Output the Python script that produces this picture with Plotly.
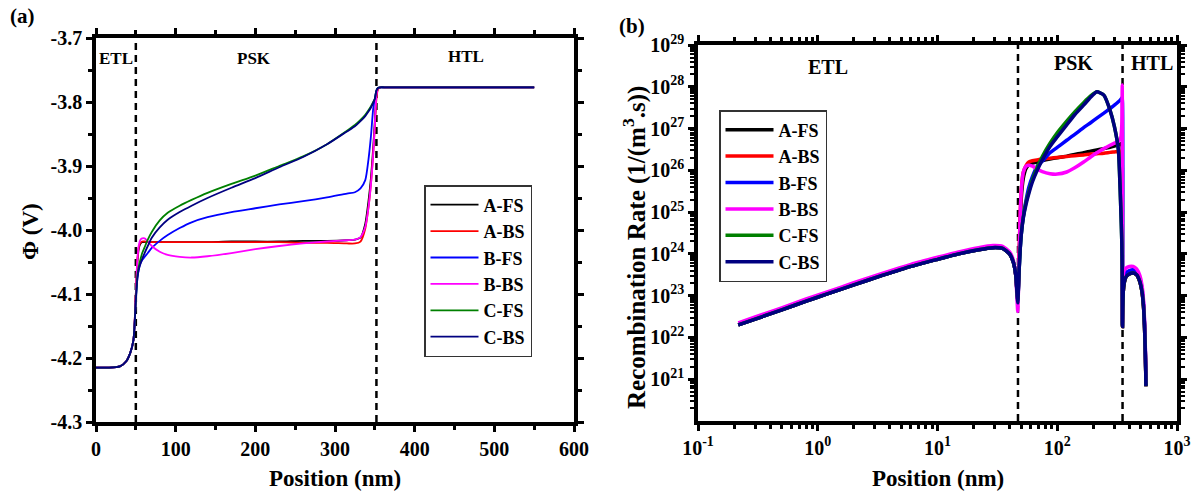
import plotly.graph_objects as go

W, H = 1203, 493
FONT = "Liberation Serif"

# ---------------- Panel (a): electrostatic potential ----------------
xa = [0, 15, 30, 38, 43, 47, 50, 52, 54, 56, 58, 61, 65, 70, 80, 90, 105, 120, 140, 170,
      200, 230, 260, 290, 315, 325, 332, 338, 342, 345, 348, 350, 352, 354, 357, 362,
      400, 450, 500, 550]

phi_A_FS = [-4.215, -4.215, -4.213, -4.205, -4.192, -4.172, -4.10, -4.05, -4.027, -4.021, -4.019, -4.019,
            -4.019, -4.019, -4.019, -4.019, -4.019, -4.019, -4.019, -4.018, -4.018, -4.018, -4.017,
            -4.017, -4.016, -4.015, -4.012, -3.99, -3.955, -3.92, -3.87, -3.83, -3.79, -3.779,
            -3.777, -3.777, -3.777, -3.777, -3.777, -3.777]
phi_A_BS = [-4.215, -4.215, -4.213, -4.205, -4.192, -4.172, -4.10, -4.045, -4.025, -4.020, -4.018, -4.018,
            -4.019, -4.019, -4.019, -4.019, -4.019, -4.019, -4.019, -4.019, -4.019, -4.019, -4.020,
            -4.020, -4.021, -4.021, -4.018, -3.998, -3.965, -3.93, -3.88, -3.84, -3.795, -3.780,
            -3.777, -3.777, -3.777, -3.777, -3.777, -3.777]
phi_B_FS = [-4.215, -4.215, -4.213, -4.205, -4.192, -4.172, -4.11, -4.075, -4.06, -4.052, -4.047, -4.042,
            -4.036, -4.028, -4.017, -4.008, -3.997, -3.988, -3.980, -3.972, -3.966, -3.960, -3.955,
            -3.949, -3.943, -3.941, -3.935, -3.922, -3.89, -3.855, -3.81, -3.795, -3.782, -3.778,
            -3.777, -3.777, -3.777, -3.777, -3.777, -3.777]
phi_B_BS = [-4.215, -4.215, -4.213, -4.205, -4.192, -4.172, -4.10, -4.045, -4.022, -4.015, -4.013, -4.013,
            -4.018, -4.025, -4.034, -4.039, -4.042, -4.043, -4.041, -4.036, -4.030, -4.025, -4.021,
            -4.018, -4.016, -4.015, -4.011, -3.995, -3.965, -3.93, -3.88, -3.835, -3.79, -3.779,
            -3.777, -3.777, -3.777, -3.777, -3.777, -3.777]
phi_C_FS = [-4.215, -4.215, -4.213, -4.205, -4.192, -4.172, -4.11, -4.07, -4.055, -4.045, -4.036, -4.027,
            -4.015, -4.003, -3.985, -3.973, -3.962, -3.953, -3.942, -3.928, -3.915, -3.900, -3.885,
            -3.866, -3.845, -3.836, -3.828, -3.820, -3.813, -3.807, -3.800, -3.795, -3.782, -3.778,
            -3.777, -3.777, -3.777, -3.777, -3.777, -3.777]
phi_C_BS = [-4.215, -4.215, -4.213, -4.205, -4.192, -4.172, -4.11, -4.075, -4.06, -4.052, -4.045, -4.036,
            -4.025, -4.012, -3.996, -3.984, -3.972, -3.962, -3.950, -3.934, -3.919, -3.902, -3.886,
            -3.866, -3.846, -3.838, -3.830, -3.822, -3.815, -3.809, -3.801, -3.795, -3.782, -3.778,
            -3.777, -3.777, -3.777, -3.777, -3.777, -3.777]

bounds_a = [50, 352]

# ---------------- Panel (b): recombination rate ----------------
xb_etl = [0.217, 0.3, 0.5, 0.8, 1.2, 2, 3.5, 6, 10, 15, 22, 29, 35, 40, 43, 45]
rr_etl = [2.0e22, 2.75e22, 4.57e22, 7.41e22, 1.10e23, 1.82e23, 3.09e23, 5.01e23, 7.41e23, 1.0e24,
          1.26e24, 1.41e24, 1.35e24, 1.0e24, 6.31e23, 3.16e23]
rr_etl_BBS = [2.24e22, 3.09e22, 5.13e22, 8.32e22, 1.23e23, 2.04e23, 3.47e23, 5.62e23, 8.32e23, 1.12e24,
              1.41e24, 1.58e24, 1.51e24, 1.12e24, 7.08e23, 3.16e23]

xb_psk = [46.8, 48, 49, 50, 52, 55, 58, 62, 68, 75, 87, 100, 120, 140, 166, 190, 214, 245, 276, 300,
          324, 339, 346, 349]
rr_psk_A_FS = [7.94e22, 6.31e23, 3.98e24, 2.0e25, 6.31e25, 1.12e26, 1.35e26, 1.48e26, 1.58e26, 1.70e26,
               1.86e26, 2.0e26, 2.19e26, 2.40e26, 2.63e26, 2.88e26, 3.09e26, 3.31e26, 3.55e26, 3.80e26,
               4.07e26, 4.27e26, 4.47e26, 2.0e26]
rr_psk_A_BS = [7.94e22, 1.0e24, 7.94e24, 3.16e25, 8.91e25, 1.32e26, 1.58e26, 1.70e26, 1.78e26, 1.86e26,
               1.95e26, 2.04e26, 2.14e26, 2.24e26, 2.34e26, 2.45e26, 2.51e26, 2.57e26, 2.69e26, 2.75e26,
               2.82e26, 2.82e26, 2.82e26, 1.0e26]
rr_psk_B_FS = [7.94e22, 3.98e23, 1.26e24, 2.82e24, 7.94e24, 2.0e25, 3.98e25, 7.08e25, 1.26e26, 1.66e26,
               2.63e26, 3.55e26, 5.25e26, 7.24e26, 1.05e27, 1.38e27, 1.78e27, 2.34e27, 3.02e27, 3.63e27,
               4.37e27, 5.01e27, 5.37e27, 5.62e27]
rr_psk_B_BS = [4.17e22, 7.94e23, 7.94e24, 3.16e25, 8.91e25, 1.26e26, 1.32e26, 1.26e26, 1.07e26, 9.33e25,
               8.32e25, 8.13e25, 9.12e25, 1.15e26, 1.58e26, 2.09e26, 2.63e26, 3.31e26, 3.98e26, 4.47e26,
               5.01e26, 6.03e26, 1.26e27, 1.10e28]
rr_psk_C_FS = [7.94e22, 3.98e23, 1.26e24, 2.82e24, 7.41e24, 1.78e25, 3.16e25, 6.03e25, 1.17e26, 2.14e26,
               4.47e26, 7.94e26, 1.51e27, 2.51e27, 4.17e27, 6.03e27, 7.59e27, 6.31e27, 2.75e27, 1.12e27,
               3.09e26, 1.35e25, 2.0e24, 3.98e23]
rr_psk_C_BS = [6.76e22, 3.98e23, 1.26e24, 2.82e24, 7.08e24, 1.58e25, 2.82e25, 5.25e25, 1.0e26, 1.78e26,
               3.72e26, 6.31e26, 1.23e27, 2.14e27, 3.63e27, 5.62e27, 7.59e27, 6.31e27, 2.75e27, 1.12e27,
               3.09e26, 1.35e25, 2.0e24, 3.98e23]

xb_htl = [350.5, 352, 356, 362, 375, 400, 430, 460, 490, 510, 525, 535, 543, 548, 550]
rr_htl = [1.82e22, 5.01e22, 1.26e23, 2.0e23, 2.82e23, 3.31e23, 3.47e23, 3.16e23, 2.14e23, 1.26e23,
          5.62e22, 2.0e22, 5.01e21, 1.58e21, 6.76e20]
rr_htl_B_FS = [2.0e22, 1.0e23, 2.24e23, 2.82e23, 3.55e23, 3.98e23, 4.17e23, 3.72e23, 2.51e23, 1.51e23,
               6.76e22, 2.40e22, 6.03e21, 1.78e21, 7.41e20]
rr_htl_B_BS = [2.51e22, 1.58e23, 3.16e23, 3.98e23, 4.57e23, 5.01e23, 5.01e23, 4.37e23, 3.02e23, 1.78e23,
               7.94e22, 2.82e22, 7.08e21, 2.0e21, 7.94e20]

bounds_b = [47, 351]

names = ["A-FS", "A-BS", "B-FS", "B-BS", "C-FS", "C-BS"]
colors = ["#000000", "#FF0000", "#0000FF", "#FF00FF", "#008000", "#000080"]
phi_series = [phi_A_FS, phi_A_BS, phi_B_FS, phi_B_BS, phi_C_FS, phi_C_BS]
etl_series = [rr_etl, rr_etl, rr_etl, rr_etl_BBS, rr_etl, rr_etl]
psk_series = [rr_psk_A_FS, rr_psk_A_BS, rr_psk_B_FS, rr_psk_B_BS, rr_psk_C_FS, rr_psk_C_BS]
htl_series = [rr_htl, rr_htl, rr_htl_B_FS, rr_htl_B_BS, rr_htl, rr_htl]

fig = go.Figure()

# boundaries (a)
for b in bounds_a:
    fig.add_trace(go.Scatter(x=[b, b], y=[-4.3, -3.7], mode="lines", showlegend=False,
                             line=dict(color="black", width=2.5, dash="7px,5px"),
                             xaxis="x", yaxis="y", hoverinfo="skip"))
for n, c, ys in zip(names, colors, phi_series):
    fig.add_trace(go.Scatter(x=xa, y=ys, mode="lines", name=n, legend="legend",
                             line=dict(color=c, width=1.8, shape="spline", smoothing=0.7),
                             xaxis="x", yaxis="y"))

# boundaries (b)
for b in bounds_b:
    fig.add_trace(go.Scatter(x=[b, b], y=[1e20, 1e29], mode="lines", showlegend=False,
                             line=dict(color="black", width=2.5, dash="7px,5px"),
                             xaxis="x2", yaxis="y2", hoverinfo="skip"))
for n, c, e, p, h in zip(names, colors, etl_series, psk_series, htl_series):
    fig.add_trace(go.Scatter(x=xb_etl + xb_psk + xb_htl, y=e + p + h, mode="lines", name=n,
                             legend="legend2",
                             line=dict(color=c, width=3.5, shape="spline", smoothing=0.5),
                             xaxis="x2", yaxis="y2"))


def px(x):
    return x / W


def py(y):
    return 1 - y / H


tickfont = dict(family=FONT, size=20, color="black", weight="bold")
axis_common = dict(showline=True, linecolor="black", linewidth=3.5, mirror="allticks",
                   ticks="outside", ticklen=6, tickwidth=3, tickcolor="black",
                   showgrid=False, zeroline=False, tickfont=tickfont, automargin=False)

minor_x2 = [float(m) * 10.0 ** k for k in (-1, 0, 1, 2) for m in range(2, 10)]
minor_y2 = [float(m) * 10.0 ** k for k in range(20, 29) for m in range(2, 10)]

legend_font = dict(family=FONT, size=18, color="black", weight="bold")

fig.update_layout(
    width=W, height=H, margin=dict(l=0, r=0, t=0, b=0, autoexpand=False),
    paper_bgcolor="white", plot_bgcolor="white",
    xaxis=dict(domain=[px(96), px(574)], range=[0, 600], tickvals=[0, 100, 200, 300, 400, 500, 600],
               minor=dict(tickvals=[50, 150, 250, 350, 450, 550], ticks="outside", ticklen=4,
                          tickwidth=3, tickcolor="black"),
               anchor="y", **axis_common),
    yaxis=dict(domain=[py(422), py(38)], range=[-4.3, -3.7],
               tickvals=[-4.3, -4.2, -4.1, -4.0, -3.9, -3.8, -3.7],
               ticktext=["-4.3", "-4.2", "-4.1", "-4.0", "-3.9", "-3.8", "-3.7"],
               minor=dict(tickvals=[-4.25, -4.15, -4.05, -3.95, -3.85, -3.75], ticks="outside",
                          ticklen=4, tickwidth=3, tickcolor="black"),
               anchor="x", **axis_common),
    xaxis2=dict(domain=[px(698), px(1177)], type="log", range=[-1, 3],
                tickvals=[0.1, 1.0, 10.0, 100.0, 1000.0],
                ticktext=["10<sup>-1</sup>", "10<sup>0</sup>", "10<sup>1</sup>", "10<sup>2</sup>",
                          "10<sup>3</sup>"],
                minor=dict(tickvals=minor_x2, ticks="outside", ticklen=4, tickwidth=3,
                           tickcolor="black"),
                anchor="y2", **axis_common),
    yaxis2=dict(domain=[py(421), py(45)], type="log", range=[20, 29],
                tickvals=[1e21, 1e22, 1e23, 1e24, 1e25, 1e26, 1e27, 1e28, 1e29],
                ticktext=["10<sup>%d</sup>" % k for k in range(21, 30)],
                minor=dict(tickvals=minor_y2, ticks="outside", ticklen=4, tickwidth=2,
                           tickcolor="black"),
                anchor="x2", **axis_common),
    legend=dict(x=px(424), y=py(185), xanchor="left", yanchor="top",
                bgcolor="white", bordercolor="#333333", borderwidth=1.5,
                font=legend_font, tracegroupgap=0, itemwidth=48),
    legend2=dict(x=px(719), y=py(110), xanchor="left", yanchor="top",
                 bgcolor="white", bordercolor="#333333", borderwidth=1.5,
                 font=legend_font, tracegroupgap=0, itemwidth=48),
    showlegend=True,
)

ann_font = lambda s: dict(family=FONT, size=s, color="black", weight="bold")
annotations = [
    dict(x=px(22), y=py(16), text="(a)", font=ann_font(21)),
    dict(x=px(632), y=py(26), text="(b)", font=ann_font(21)),
    dict(x=px(116), y=py(58), text="ETL", font=ann_font(17)),
    dict(x=px(254), y=py(58), text="PSK", font=ann_font(17)),
    dict(x=px(466), y=py(57), text="HTL", font=ann_font(17)),
    dict(x=px(828), y=py(67), text="ETL", font=ann_font(20)),
    dict(x=px(1073), y=py(63), text="PSK", font=ann_font(20)),
    dict(x=px(1152), y=py(63), text="HTL", font=ann_font(20)),
    dict(x=px(335), y=py(478), text="Position (nm)", font=ann_font(23)),
    dict(x=px(938), y=py(478), text="Position (nm)", font=ann_font(23)),
    dict(x=px(30), y=py(232), text="Φ (V)", textangle=-90, font=ann_font(23)),
    dict(x=px(634), y=py(248), text="Recombination Rate (1/(m<sup>3</sup>.s))", textangle=-90,
         font=ann_font(25)),
]
for a in annotations:
    a.update(xref="paper", yref="paper", showarrow=False, xanchor="center", yanchor="middle")
fig.update_layout(annotations=annotations)

fig.write_html("out.html")
